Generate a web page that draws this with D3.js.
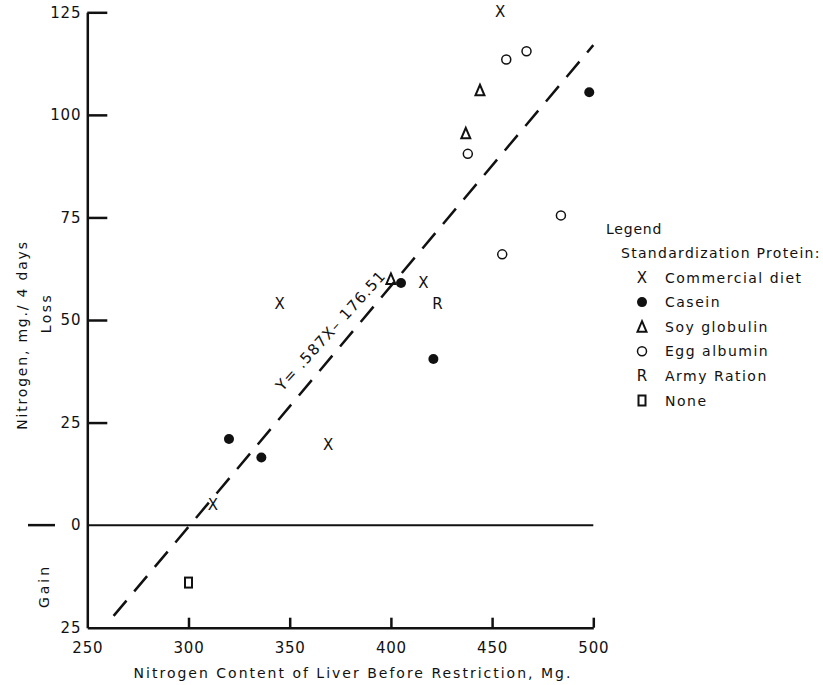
<!DOCTYPE html>
<html>
<head>
<meta charset="utf-8">
<script src="https://cdn.jsdelivr.net/npm/d3@7"></script>
<style>
  body { margin: 0; background: #fff; }
  svg text { font-family: "DejaVu Sans", sans-serif; fill: #111; }
</style>
</head>
<body>
<svg id="chart" width="823" height="685"></svg>
<script>
/*******************************************************************************************/
// Data

var groups = ['Commercial diet', 'Casein', 'Soy globulin', 'Egg albumin', 'Army Ration', 'None'];

var commercialDiet = [[454, 125], [345, 54], [416, 59], [369, 19.5], [312, 5]];
var casein         = [[498, 105.5], [405, 59], [421, 40.5], [320, 21], [336, 16.5]];
var soyGlobulin    = [[444, 106], [437, 95.5], [400, 60]];
var eggAlbumin     = [[457, 113.5], [467, 115.5], [438, 90.5], [484, 75.5], [455, 66]];
var armyRation     = [[423, 54]];
var noneGroup      = [[300, -14]];

var xTicks = [250, 300, 350, 400, 450, 500];
var yTicks = [-25, 0, 25, 50, 75, 100, 125];

// regression  Y = .587X - 176.51
var regSlope = 0.587, regIntercept = -176.51, regRange = [263, 500];

/*******************************************************************************************/
// Scales and axes

var svg = d3.select('#chart');
var x = d3.scaleLinear().domain([250, 500]).range([87.3, 593.3]);
var y = d3.scaleLinear().domain([-25, 125]).range([627.7, 12.3]);

var yAxis = svg.append('g').attr('transform', 'translate(' + x(250) + ',0)')
  .call(d3.axisLeft(y).tickValues(yTicks).tickSizeInner(-20).tickSizeOuter(0).tickPadding(6)
        .tickFormat(function(d){ return Math.abs(d); }));
yAxis.selectAll('.tick').filter(function(d){ return d <= 0; }).select('line').remove();

var xAxis = svg.append('g').attr('transform', 'translate(0,' + y(-25) + ')')
  .call(d3.axisBottom(x).tickValues(xTicks).tickSizeInner(-10).tickSizeOuter(0).tickPadding(15));
xAxis.selectAll('.tick').filter(function(d){ return d == 250; }).select('line').remove();

svg.selectAll('.domain').attr('stroke', '#111').attr('stroke-width', 2.5);
svg.selectAll('.tick line').attr('stroke', '#111').attr('stroke-width', 2.5);
svg.selectAll('.tick text').attr('font-size', 15).attr('fill', '#111')
   .attr('font-family', '"DejaVu Sans", sans-serif').style('letter-spacing', '0.8px');

// zero line and the dash left of the "0"
svg.append('line').attr('x1', x(250)).attr('x2', x(500)).attr('y1', y(0)).attr('y2', y(0))
   .attr('stroke', '#111').attr('stroke-width', 2);
svg.append('line').attr('x1', 28).attr('x2', 55).attr('y1', y(0)).attr('y2', y(0))
   .attr('stroke', '#111').attr('stroke-width', 2.5);

/*******************************************************************************************/
// Axis titles

svg.append('text').attr('x', 353).attr('y', 678).attr('text-anchor', 'middle')
   .attr('font-size', 14).style('letter-spacing', '2px')
   .text('Nitrogen Content of Liver Before Restriction, Mg.');

svg.append('text').attr('transform', 'translate(22,335) rotate(-90)').attr('text-anchor', 'middle')
   .attr('dominant-baseline', 'central').attr('font-size', 14).style('letter-spacing', '1.8px')
   .text('Nitrogen,  mg./ 4 days');
svg.append('text').attr('transform', 'translate(46,313) rotate(-90)').attr('text-anchor', 'middle')
   .attr('dominant-baseline', 'central').attr('font-size', 14).style('letter-spacing', '2.5px')
   .text('Loss');
svg.append('text').attr('transform', 'translate(44,586) rotate(-90)').attr('text-anchor', 'middle')
   .attr('dominant-baseline', 'central').attr('font-size', 14).style('letter-spacing', '3px')
   .text('Gain');

/*******************************************************************************************/
// Regression line and its label

var lineGen = d3.line().x(function(d){ return x(d); }).y(function(d){ return y(regSlope * d + regIntercept); });
svg.append('path').datum(regRange).attr('d', lineGen)
   .attr('fill', 'none').attr('stroke', '#111').attr('stroke-width', 2.5).attr('stroke-dasharray', '20,12');

var ax = 370, apx = x(ax), apy = y(regSlope * ax + regIntercept);
var ang = Math.atan2(y(regSlope * regRange[1] + regIntercept) - y(regSlope * regRange[0] + regIntercept),
                     x(regRange[1]) - x(regRange[0])) * 180 / Math.PI;
svg.append('text').attr('transform', 'translate(' + apx + ',' + apy + ') rotate(' + (ang + 2) + ')')
   .attr('x', 21).attr('y', -18).attr('text-anchor', 'middle').attr('dominant-baseline', 'central')
   .attr('font-size', 15).style('letter-spacing', '1.3px')
   .text('Y= .587X\u2013 176.51');

/*******************************************************************************************/
// Markers

function drawMarker(g, type){
  if(type == 0){
    g.append('text').attr('text-anchor', 'middle').attr('dominant-baseline', 'central')
     .attr('font-size', 15).text('X');
  } else if(type == 1){
    g.append('circle').attr('r', 5).attr('fill', '#111');
  } else if(type == 2){
    g.append('path').attr('d', 'M0,-5.5 L4.5,5 L-4.5,5 Z').attr('fill', 'none')
     .attr('stroke', '#111').attr('stroke-width', 2);
  } else if(type == 3){
    g.append('circle').attr('r', 4.5).attr('fill', '#fff').attr('stroke', '#111').attr('stroke-width', 1.5);
  } else if(type == 4){
    g.append('text').attr('text-anchor', 'middle').attr('dominant-baseline', 'central')
     .attr('font-size', 15).text('R');
  } else {
    g.append('rect').attr('x', -3.5).attr('y', -5).attr('width', 7).attr('height', 10)
     .attr('fill', 'none').attr('stroke', '#111').attr('stroke-width', 2);
  }
}

var series = [commercialDiet, casein, soyGlobulin, eggAlbumin, armyRation, noneGroup];
series.forEach(function(pts, k){
  pts.forEach(function(p){
    var g = svg.append('g').attr('transform', 'translate(' + x(p[0]) + ',' + y(p[1]) + ')');
    drawMarker(g, k);
  });
});

/*******************************************************************************************/
// Legend

svg.append('text').attr('x', 606).attr('y', 229).attr('dominant-baseline', 'central')
   .attr('font-size', 14).style('letter-spacing', '0.8px').text('Legend');
svg.append('text').attr('x', 621).attr('y', 253).attr('dominant-baseline', 'central')
   .attr('font-size', 14).style('letter-spacing', '1.3px').text('Standardization Protein:');

groups.forEach(function(name, i){
  var ly = 277.5 + i * 24.6;
  var g = svg.append('g').attr('transform', 'translate(642,' + ly + ')');
  drawMarker(g, i);
  svg.append('text').attr('x', 665).attr('y', ly).attr('dominant-baseline', 'central')
     .attr('font-size', 14).style('letter-spacing', '1.5px').text(name);
});
</script>
</body>
</html>
